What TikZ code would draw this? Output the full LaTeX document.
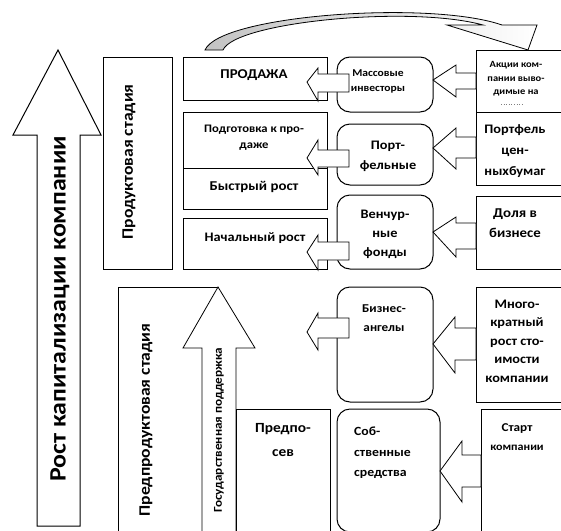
\documentclass[tikz,border=0pt]{standalone}
\usepackage{fontspec}
\setmainfont{Carlito}[FakeStretch=1.1]
\usetikzlibrary{positioning,calc}
\definecolor{curvegray}{RGB}{195,195,195}

\tikzset{
  stagebox/.style={draw, line width=1pt, fill=white},
  fundbox/.style={draw, line width=1pt, fill=white, rounded corners=13pt},
  blockarrow/.style={draw, line width=0.8pt, fill=white, line join=miter},
  txt/.style 2 args={align=center, inner sep=0pt, font=\bfseries\fontsize{#1}{#2}\selectfont},
}

\begin{document}
\begin{tikzpicture}[x=1pt, y=-1pt]
    \useasboundingbox (0,0) rectangle (561,530);
    \clip (0,0) rectangle (561,530);

    % Stage boxes
    \draw[stagebox] (103,57) rectangle (172,269);
    \draw[stagebox] (118,287) rectangle (218,545);

    % Company stages
    \draw[stagebox] (183,57) rectangle (327,100);
    \draw[stagebox] (183,112) rectangle (327,209);
    \draw[stagebox] (183,168) -- (327,168);
    \draw[stagebox] (183,218) rectangle (327,269);

    % Investors (rounded)
    \foreach \yt/\yb in {57/112, 124/185, 195/269, 287/402}
        \draw[fundbox] (337,\yt) rectangle (433,\yb);
    \draw[fundbox] (337,409) rectangle (440,532);

    % What the investor gets
    \foreach \yt/\yb in {50/112, 112/185, 196/269, 287/402}
        \draw[stagebox] (476,\yt) rectangle (575,\yb);
    \draw[stagebox] (481,409) rectangle (575,545);
    \draw[gray, dotted, line width=0.6pt] (501,104) -- (522,104);

    % Big arrow on the left
    \draw[blockarrow, line width=1pt] (37,526) -- (37,135) -- (13,135) -- (58,50)
        -- (101,135) -- (80,135) -- (80,526) -- cycle;

    % State support arrow
    \draw[blockarrow] (202,545) -- (202,348) -- (183,348) -- (218,287)
        -- (255,348) -- (236,348) -- (236,545);
    \draw[stagebox] (236,409) rectangle (330,545);

    % Arrows to the stages
    \foreach \ty/\hu/\su/\sl/\hl in {82/68/74/92/101, 158/140/150/167/175, 252/235/242/260/270, 332/313/318/338/350} {
        \draw[blockarrow] (307,\ty) -- (318,\hu) -- (318,\su) -- (349,\su)
            -- (349,\sl) -- (318,\sl) -- (318,\hl) -- cycle;
    }

    % Arrows to the investors
    \foreach \tx/\ty/\hx/\hu/\su/\sl/\hl/\ex in {433/80/456/65/73/89/97/476, 433/148/456/128/137/158/169/476,
            433/232/456/217/223/249/257/476, 433/344/455/317/328/360/373/476, 440/471/462/441/455/487/502/481} {
        \draw[blockarrow] (\tx,\ty) -- (\hx,\hu) -- (\hx,\su) -- (\ex,\su)
            -- (\ex,\sl) -- (\hx,\sl) -- (\hx,\hl) -- cycle;
    }

    % Curved arrow on top
    \draw[line width=0.8pt, line join=miter, left color=curvegray, right color=white]
        (205,50) .. controls (220,15) and (430,0) .. (502,25) -- (537,25) -- (528,50)
        -- (447,25) -- (483,25) .. controls (410,5) and (235,22) .. (223,50) -- cycle;

    % Vertical labels
    \node[txt={23.5}{26}, rotate=90] (growth) at (60,309) {Рост капитализации компании};
    \node[txt={16}{17}, rotate=90] (productstage) at (129,162) {Продуктовая стадия};
    \node[txt={16}{17}, rotate=90] (preproduct) at (146,420) {Предпродуктовая стадия};
    \node[txt={12}{13}, rotate=90] (govsupport) at (219,430) {Государственная поддержка};

    % Stages
    \node[txt={13.5}{15}] (sale) at (254,75) {ПРОДАЖА};
    \node[txt={11.5}{16}] (prep) at (254,138) {Подготовка к про-\\даже};
    \node[txt={13.5}{15}] (fastgrowth) at (254,187) {Быстрый рост};
    \node[txt={13}{15}] (startgrowth) at (255,238) {Начальный рост};
    \node[txt={14}{24}] (preseed) at (283,440) {Предпо-\\сев};

    % Investors
    \node[txt={10.5}{15}] (massinv) at (378,81) {Массовые\\инвесторы};
    \node[txt={13}{20}] (portf) at (388,156) {Порт-\\фельные};
    \node[txt={13}{19}] (venture) at (385,234) {Венчур-\\ные\\фонды};
    \node[txt={12}{19}] (angels) at (384,318) {Бизнес-\\ангелы};
    \node[txt={12.5}{20.5}, align=left, anchor=west] (own) at (354,453) {Соб-\\ственные\\средства};

    % Returns
    \node[txt={9.5}{13.5}] (shares) at (516,79) {Акции ком-\\пании выво-\\димые на};
    \node[txt={13}{21}] (portfolio) at (515,151) {Портфель\\цен-\\ныхбумаг};
    \node[txt={13.5}{20}] (stake) at (515,223) {Доля в\\бизнесе};
    \node[txt={13}{18.5}] (multi) at (517,341) {Много-\\кратный\\рост сто-\\имости\\компании};
    \node[txt={12}{19}] (startup) at (517,437) {Старт\\{\fontsize{11}{11}\selectfont компании}};
\end{tikzpicture}
\end{document}
